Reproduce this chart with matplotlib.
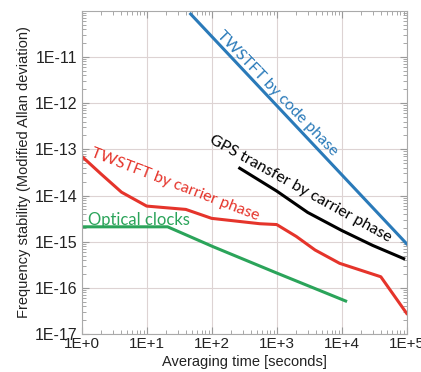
import numpy as np
import matplotlib
matplotlib.use('Agg')
import matplotlib.pyplot as plt
from matplotlib.ticker import LogLocator, NullFormatter, FixedFormatter, FixedLocator

# data (tau in seconds, modified Allan deviation)
code_tau = [47.5, 1e5]
code_adev = [8.5e-11, 9.0e-16]

gps_tau = [270, 1000, 3000, 1e4, 3e4, 9e4]
gps_adev = [3.9e-14, 1.25e-14, 4.3e-15, 1.75e-15, 8.3e-16, 4.3e-16]

carrier_tau = [1, 2, 4.1, 10, 40, 100, 550, 1000, 2000, 3900, 9300, 40000, 1e5]
carrier_adev = [7.1e-14, 2.9e-14, 1.18e-14, 5.9e-15, 5.0e-15, 3.2e-15, 2.45e-15,
                2.35e-15, 1.3e-15, 6.6e-16, 3.4e-16, 1.74e-16, 2.8e-17]

optical_tau = [1, 21, 105, 1000, 11500]
optical_adev = [2.1e-15, 2.1e-15, 7.8e-16, 2.1e-16, 5.2e-17]

xticks = [1e0, 1e1, 1e2, 1e3, 1e4, 1e5]
xlabels = ['1E+0', '1E+1', '1E+2', '1E+3', '1E+4', '1E+5']
yticks = [1e-17, 1e-16, 1e-15, 1e-14, 1e-13, 1e-12, 1e-11]
ylabels = ['1E-17', '1E-16', '1E-15', '1E-14', '1E-13', '1E-12', '1E-11']

blue = '#2a7ab9'
red = '#e5342b'
green = '#2ba45a'

fig = plt.figure(figsize=(4.21, 3.72), dpi=100)
ax = fig.add_axes([0.194, 0.102, 0.772, 0.869])

ax.plot(code_tau, code_adev, color=blue, lw=2.2)
ax.plot(gps_tau, gps_adev, color='black', lw=2.2)
ax.plot(carrier_tau, carrier_adev, color=red, lw=2.2)
ax.plot(optical_tau, optical_adev, color=green, lw=2.2)

ax.set_xscale('log')
ax.set_yscale('log')
ax.set_xlim(1, 1e5)
ax.set_ylim(1e-17, 1e-10)

ax.xaxis.set_major_locator(FixedLocator(xticks))
ax.xaxis.set_major_formatter(FixedFormatter(xlabels))
ax.yaxis.set_major_locator(FixedLocator(yticks))
ax.yaxis.set_major_formatter(FixedFormatter(ylabels))
ax.xaxis.set_minor_locator(LogLocator(base=10, subs=np.arange(2, 10), numticks=20))
ax.yaxis.set_minor_locator(LogLocator(base=10, subs=np.arange(2, 10), numticks=20))
ax.xaxis.set_minor_formatter(NullFormatter())
ax.yaxis.set_minor_formatter(NullFormatter())

ax.tick_params(which='both', direction='in', top=True, right=True, colors='#999999',
               labelcolor='#222222')
ax.tick_params(axis='x', labelsize=11, pad=2)
ax.tick_params(axis='y', labelsize=11.5, pad=3)
ax.tick_params(which='major', length=5, width=0.8)
ax.tick_params(which='minor', length=3, width=0.6)
for lab in ax.get_xticklabels() + ax.get_yticklabels():
    lab.set_family('Liberation Sans')

for s in ax.spines.values():
    s.set_color('#aaaaaa')
    s.set_linewidth(0.8)
ax.grid(True, which='major', color='#ddd3d3', lw=0.8)
ax.set_axisbelow(True)

ax.set_xlabel('Averaging time [seconds]', family='Liberation Sans', fontsize=10.5,
              color='#222222', labelpad=3)
ax.set_ylabel('Frequency stability (Modified Allan deviation)', family='Liberation Sans',
              fontsize=10.5, color='#222222', labelpad=3)

# curve labels
lbl = dict(family='Lato', fontsize=11.5, rotation_mode='anchor', ha='center', va='center')
ax.text(1000, 1.6e-12, 'TWSTFT by code phase', color=blue, rotation=-46, **lbl)
ax.text(2350, 1.37e-14, 'GPS transfer by carrier phase', color='black', rotation=-29, **lbl)
ax.text(27, 1.75e-14, 'TWSTFT by carrier phase', color=red, rotation=-21, **lbl)
ax.text(1.25, 2.3e-15, 'Optical clocks', color=green, family='Lato', fontsize=12,
        ha='left', va='baseline')

fig.savefig('out.png', dpi=100)
